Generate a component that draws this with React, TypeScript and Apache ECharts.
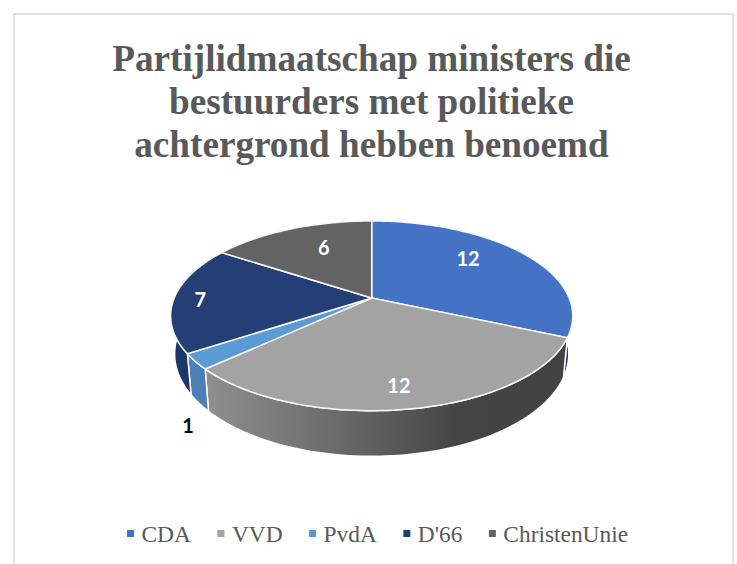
import React, { useEffect, useRef } from "react";
import * as echarts from "echarts";

const titleLines = ["Partijlidmaatschap ministers die", "bestuurders met politieke", "achtergrond hebben benoemd"];
const parties = ["CDA", "VVD", "PvdA", "D'66", "ChristenUnie"];
const members = [12, 12, 1, 7, 6];
const topColors = ["#4472c4", "#a3a3a3", "#5b9bd5", "#243f75", "#636363"];
const sideColors = ["#223c6e", "", "#4c80b4", "#1e3769", "#555555"];
const labelColors = ["#ffffff", "#ffffff", "#000000", "#ffffff", "#ffffff"];
const labelNudges = [[0, -11], [4.5, 24], [-79.6, 89.5], [-49, 1], [5, -6]];

// Perspective disc geometry
const CX = 371.7, CY = 298, A = 197.5, B = 91.5, K = 0.188;
const BOTTOM_SCALE = 0.98, BOTTOM_A = 12.8, BOTTOM_B = 1.08;
const total = members.reduce((a, b) => a + b, 0);

function project(deg: number, r = 1): [number, number] {
  const t = (deg * Math.PI) / 180;
  const x = Math.sin(t) * r, y = Math.cos(t) * r;
  const d = 1 + K * y;
  return [CX + (A * x) / d, CY - (B * y) / d];
}
function bottom(p: [number, number]): [number, number] {
  return [CX + BOTTOM_SCALE * (p[0] - CX), BOTTOM_A + BOTTOM_B * p[1]];
}
function arc(a0: number, a1: number): [number, number][] {
  const n = Math.max(4, Math.ceil(Math.abs(a1 - a0) / 1.5));
  const out: [number, number][] = [];
  for (let i = 0; i <= n; i++) out.push(project(a0 + ((a1 - a0) * i) / n));
  return out;
}
function range(i: number): [number, number] {
  const before = members.slice(0, i).reduce((a, b) => a + b, 0);
  return [(before / total) * 360, ((before + members[i]) / total) * 360];
}

function sideItem(params: any) {
  const i = params.dataIndex;
  const [a0, a1] = range(i);
  const top = arc(a0, a1);
  const pts = [...top, ...top.map(bottom).reverse()];
  const fill: any = sideColors[i]
    ? sideColors[i]
    : new echarts.graphic.LinearGradient(0, 0, 1, 0, [
        { offset: 0, color: "#8f8f8f" },
        { offset: 0.35, color: "#6c6c6c" },
        { offset: 0.7, color: "#444444" },
        { offset: 1, color: "#424242" },
      ]);
  return { type: "polygon", shape: { points: pts }, style: { fill, stroke: "#ffffff", lineWidth: 1.5 } };
}

function topItem(i: number) {
  return () => {
    const [a0, a1] = range(i);
    const pts = [[CX, CY], ...arc(a0, a1)];
    const mid = (a0 + a1) / 2;
    const p = project(mid, 0.62);
    return {
      type: "group",
      children: [
        { type: "polygon", shape: { points: pts }, style: { fill: topColors[i], stroke: "#f6f6f6", lineWidth: 1.5, lineJoin: "round" } },
        {
          type: "text",
          z2: 50,
          style: {
            text: String(members[i]),
            x: p[0] + labelNudges[i][0],
            y: p[1] + labelNudges[i][1],
            fill: labelColors[i],
            fontFamily: "Lato",
            fontWeight: "bold",
            fontSize: 20,
            textAlign: "center",
            textVerticalAlign: "middle",
          },
        },
      ],
    };
  };
}

export default function App() {
  const ref = useRef<HTMLDivElement>(null);
  useEffect(() => {
    const chart = echarts.init(ref.current!, undefined, { renderer: "svg" });
    chart.setOption({
      animation: false,
      backgroundColor: "#ffffff",
      title: {
        text: titleLines.join("\n"),
        left: 366.5,
        top: 32,
        textAlign: "center",
        textStyle: { fontFamily: "Liberation Serif", fontWeight: "bold", fontSize: 37.2, lineHeight: 43, color: "#595959" },
      },
      legend: {
        data: parties,
        left: 122,
        top: 517,
        icon: "rect",
        itemWidth: 7,
        itemHeight: 7,
        itemGap: 26.5,
        selectedMode: false,
        textStyle: { fontFamily: "Liberation Serif", fontSize: 23.4, color: "#595959", padding: [0, 0, 0, 2.5] },
      },
      graphic: [
        { type: "rect", silent: true, shape: { x: 14, y: 14, width: 719, height: 600 }, style: { fill: "none", stroke: "#d9d9d9", lineWidth: 1.5 } },
      ],
      series: [
        {
          type: "custom",
          name: "zijkant",
          coordinateSystem: "none",
          silent: true,
          z: 2,
          data: members,
          renderItem: sideItem,
        },
        ...parties.map((name, i) => ({
          type: "custom",
          name,
          coordinateSystem: "none",
          silent: true,
          z: 3,
          itemStyle: { color: topColors[i] },
          data: [members[i]],
          renderItem: topItem(i),
        })),
      ],
    });
    return () => chart.dispose();
  }, []);
  return <div ref={ref} style={{ position: "fixed", left: 0, top: 0, width: 737, height: 564 }} />;
}
